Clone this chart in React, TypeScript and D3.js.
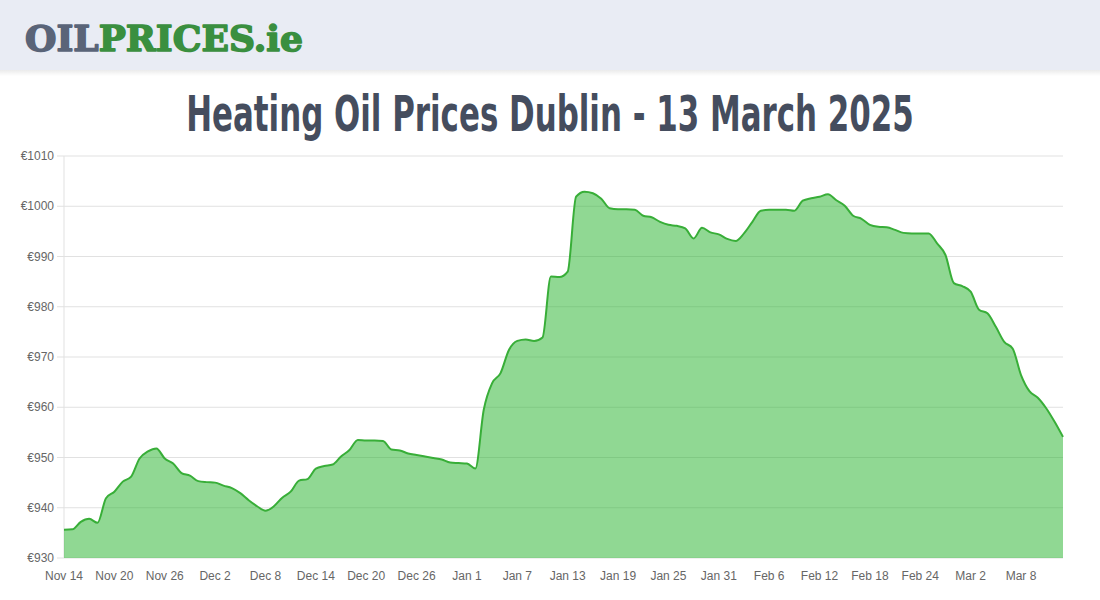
import React, { useEffect, useRef } from "react";
import * as d3 from "d3";

const startDate = "2024-11-14";
const prices: number[] = [
  935.6, 935.7, 937.2, 937.8, 937.0, 941.9, 943.2, 945.2, 946.2, 949.8,
  951.2, 951.8, 949.8, 948.8, 946.9, 946.4, 945.3, 945.1, 945.0, 944.4,
  943.9, 942.9, 941.5, 940.3, 939.4, 940.3, 942.0, 943.2, 945.4, 945.7,
  947.8, 948.3, 948.6, 950.2, 951.5, 953.5, 953.4, 953.4, 953.3, 951.6,
  951.4, 950.8, 950.5, 950.2, 949.9, 949.6, 949.0, 948.9, 948.8, 947.8,
  959.5, 964.8, 966.8, 971.4, 973.2, 973.5, 973.2, 973.9, 986.0, 985.9,
  987.0, 1001.9, 1002.9, 1002.6, 1001.5, 999.6, 999.4, 999.4, 999.3, 998.1,
  997.8, 996.9, 996.3, 996.1, 995.6, 993.6, 995.7, 994.8, 994.4, 993.5,
  993.1, 994.6, 996.9, 999.1, 999.3, 999.3, 999.3, 999.1, 1001.1, 1001.6,
  1001.9, 1002.4, 1001.2, 1000.1, 998.1, 997.5, 996.3, 995.9, 995.8, 995.3,
  994.7, 994.6, 994.6, 994.6, 992.6, 990.3, 984.7, 984.1, 983.0, 979.4,
  978.7, 976.0, 973.0, 971.7, 966.4, 963.2, 961.9, 959.8, 957.1, 954.1,
];
const xTickLabels = [
  "Nov 14", "Nov 20", "Nov 26", "Dec 2", "Dec 8", "Dec 14", "Dec 20", "Dec 26",
  "Jan 1", "Jan 7", "Jan 13", "Jan 19", "Jan 25", "Jan 31", "Feb 6", "Feb 12",
  "Feb 18", "Feb 24", "Mar 2", "Mar 8",
];
const yTicks = [930, 940, 950, 960, 970, 980, 990, 1000, 1010];
const titleText = "Heating Oil Prices Dublin - 13 March 2025";

export default function App() {
  const titleRef = useRef<SVGTextElement>(null);
  const logoRef = useRef<SVGTextElement>(null);

  useEffect(() => {
    const fit = (el: SVGTextElement | null, target: number, ax: number) => {
      if (!el) return;
      el.removeAttribute("transform");
      const w = el.getBBox().width;
      if (w > 0) {
        const s = target / w;
        el.setAttribute("transform", `translate(${ax},0) scale(${s},1) translate(${-ax},0)`);
      }
    };
    fit(titleRef.current, 728, 550);
    fit(logoRef.current, 278, 25);
  }, []);

  const left = 64, right = 1063, top = 156, bottom = 558;
  const n = prices.length;
  const x = d3.scaleLinear().domain([0, n - 1]).range([left, right]);
  const y = d3.scaleLinear().domain([930, 1010]).range([bottom, top]);
  const start = new Date(startDate + "T00:00:00");
  const data = prices.map((v, i) => ({ i, v, date: d3.timeDay.offset(start, i) }));

  const curve = d3.curveMonotoneX;
  const area = d3.area<any>().x((d) => x(d.i)).y0(bottom).y1((d) => y(d.v)).curve(curve);
  const line = d3.line<any>().x((d) => x(d.i)).y((d) => y(d.v)).curve(curve);

  const fmt = d3.timeFormat("%b %-d");
  const xTicks = xTickLabels.map((lab, k) => ({ lab, i: k * 6 }));

  return (
    <svg width={1100} height={600} style={{ position: "absolute", left: 0, top: 0 }}>
      <defs>
        <linearGradient id="hdrShadow" x1="0" y1="0" x2="0" y2="1">
          <stop offset="0" stopColor="#000" stopOpacity="0.08" />
          <stop offset="1" stopColor="#000" stopOpacity="0" />
        </linearGradient>
      </defs>
      <rect x={0} y={0} width={1100} height={600} fill="#ffffff" />
      <rect x={0} y={0} width={1100} height={70} fill="#e9ecf4" />
      <rect x={0} y={70} width={1100} height={6} fill="url(#hdrShadow)" />
      <text
        ref={logoRef}
        x={25}
        y={51}
        fontFamily="'DejaVu Serif', serif"
        fontWeight="bold"
        fontSize={36}
        strokeWidth={1.6}
        strokeLinejoin="round"
      >
        <tspan fill="#5a6478" stroke="#5a6478">OIL</tspan>
        <tspan fill="#3a8f3f" stroke="#3a8f3f">PRICES.ie</tspan>
      </text>
      <text
        ref={titleRef}
        x={550}
        y={131}
        textAnchor="middle"
        fontFamily="'DejaVu Sans Condensed', 'Liberation Sans Narrow', sans-serif"
        fontWeight="bold"
        fontSize={50}
        fill="#454d5e"
      >
        {titleText}
      </text>

      {yTicks.map((t) => (
        <g key={t}>
          <line x1={57} x2={right} y1={y(t)} y2={y(t)} stroke="#e1e1e1" strokeWidth={1} />
          <text
            x={54}
            y={y(t) + 4}
            textAnchor="end"
            fontFamily="'Liberation Sans', Arial, sans-serif"
            fontSize={12}
            fill="#666"
          >
            {"€" + t}
          </text>
        </g>
      ))}
      <line x1={left} x2={left} y1={top} y2={bottom} stroke="#e1e1e1" strokeWidth={1} />

      <path d={area(data) || ""} fill="rgba(34,177,40,0.5)" />
      <path d={line(data) || ""} fill="none" stroke="#38ae38" strokeWidth={2} />

      {xTicks.map((t) => (
        <text
          key={t.lab}
          x={x(t.i)}
          y={580}
          textAnchor="middle"
          fontFamily="'Liberation Sans', Arial, sans-serif"
          fontSize={12}
          fill="#666"
          data-date={fmt(data[t.i].date)}
        >
          {t.lab}
        </text>
      ))}
    </svg>
  );
}
